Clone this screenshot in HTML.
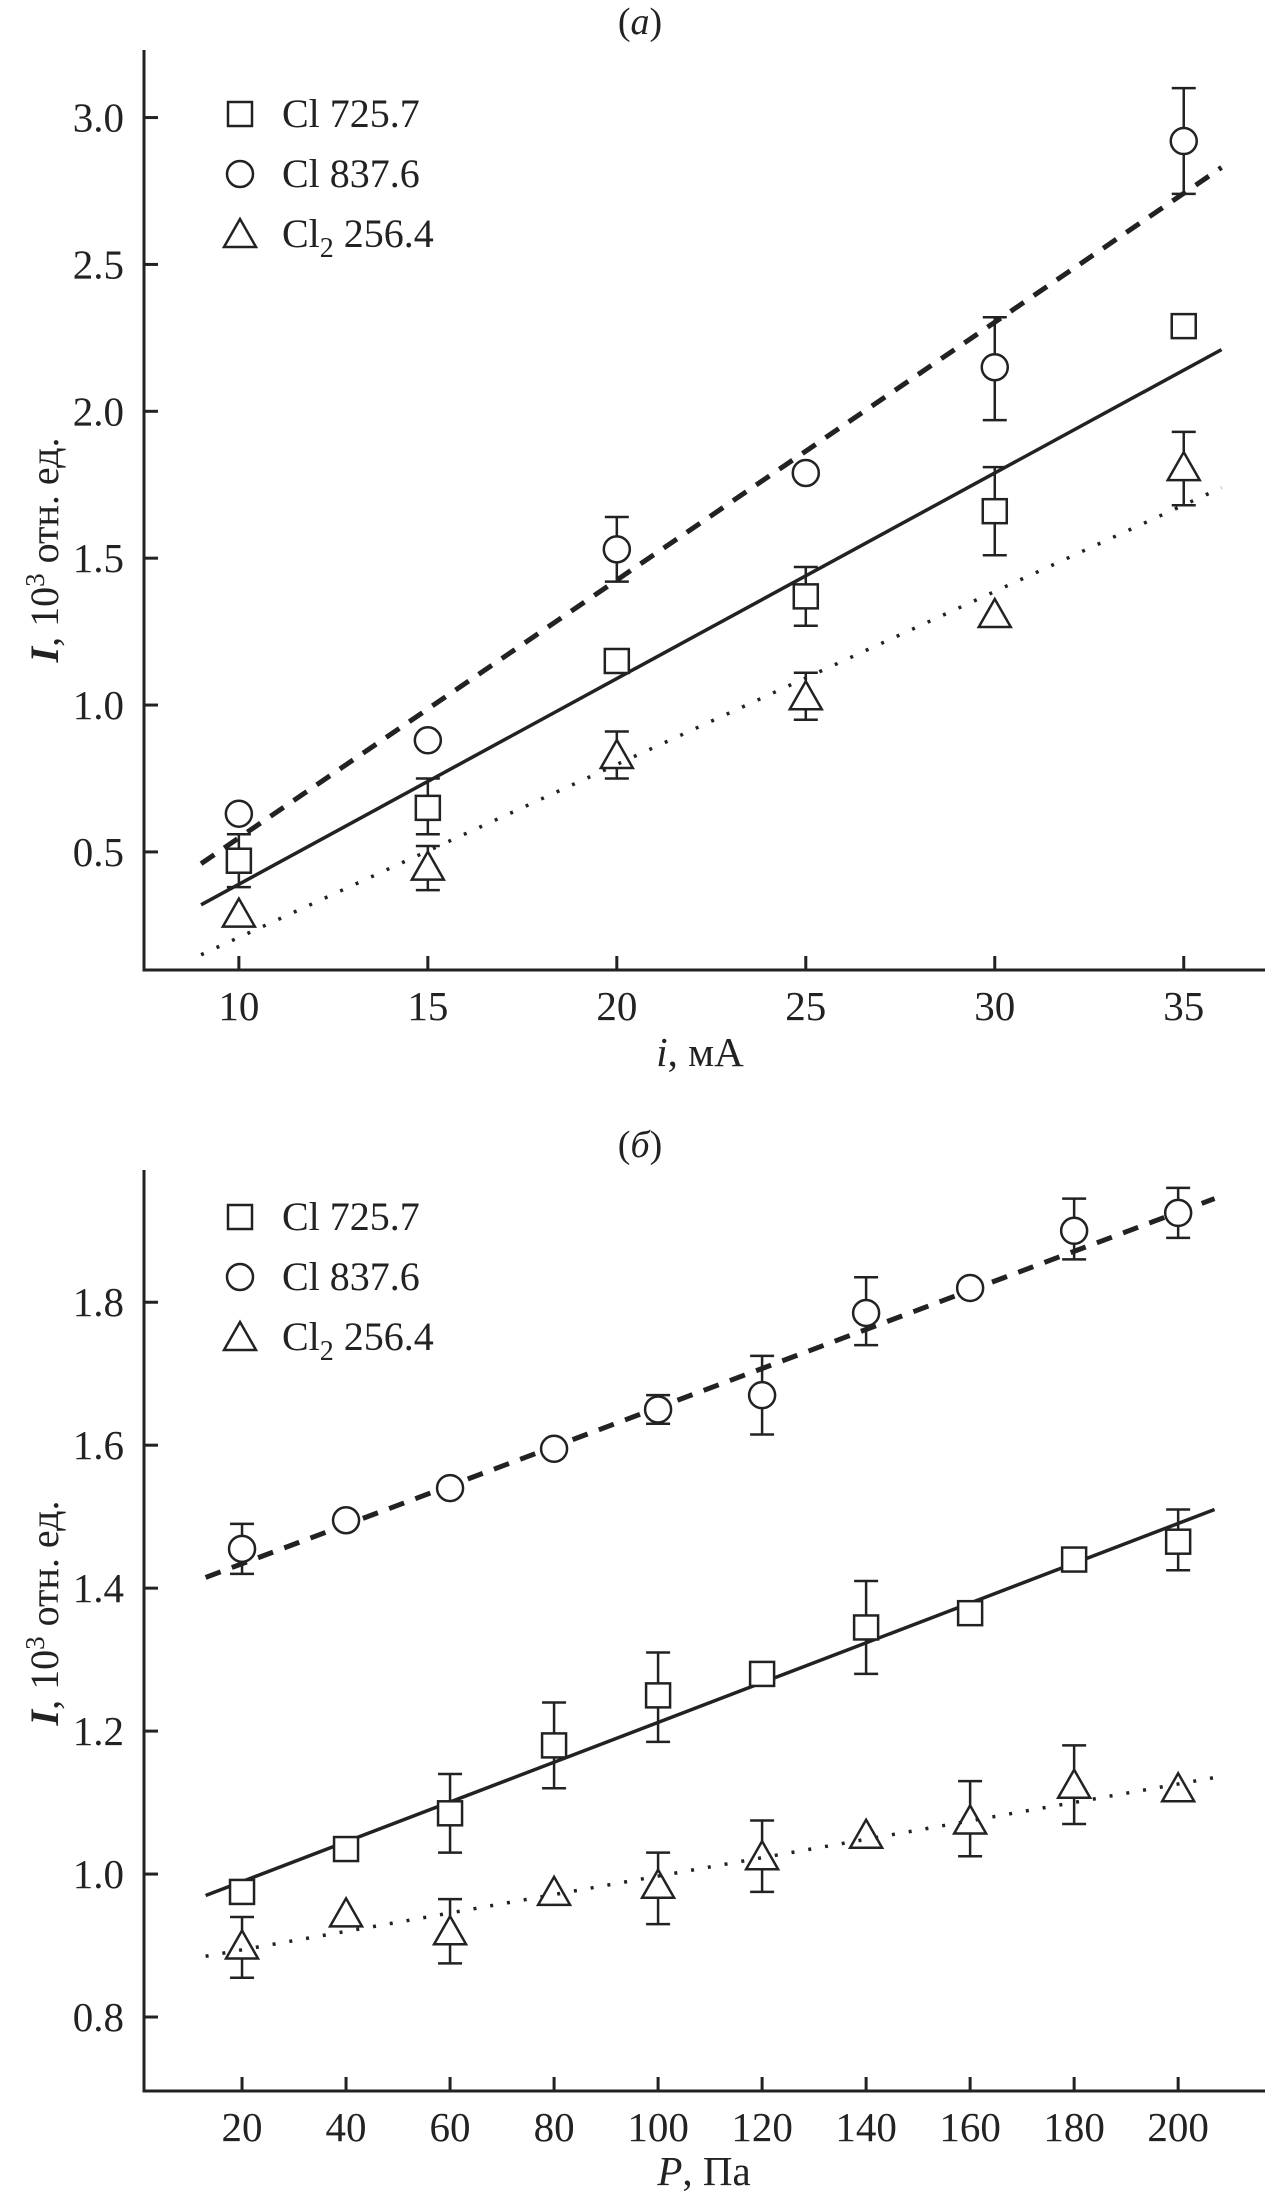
<!DOCTYPE html>
<html><head><meta charset="utf-8"><style>
html,body{margin:0;padding:0;background:#fff;}
svg{display:block;font-family:"Liberation Serif",serif;}
</style></head><body>
<svg id="fig" width="1277" height="2200" viewBox="0 0 1277 2200" xmlns="http://www.w3.org/2000/svg"></svg>
<script>
// ---- panel (a) data ----
const aX = [10, 15, 20, 25, 30, 35];
const aXTicks = [10, 15, 20, 25, 30, 35];
const aYTicks = [0.5, 1.0, 1.5, 2.0, 2.5, 3.0];
const aSq = [0.47, 0.65, 1.15, 1.37, 1.66, 2.29];
const aSqLo = [0.38, 0.56, null, 1.27, 1.51, null];
const aSqHi = [0.56, 0.75, null, 1.47, 1.81, null];
const aCi = [0.63, 0.88, 1.53, 1.79, 2.15, 2.92];
const aCiLo = [null, null, 1.42, null, 1.97, 2.74];
const aCiHi = [null, null, 1.64, null, 2.32, 3.10];
const aTr = [0.29, 0.45, 0.83, 1.03, 1.31, 1.81];
const aTrLo = [null, 0.37, 0.75, 0.95, null, 1.68];
const aTrHi = [null, 0.52, 0.91, 1.11, null, 1.93];
const aFitX = [9, 36];
const aFitSq = [0.32, 2.21];
const aFitCi = [0.46, 2.83];
const aFitTr = [0.15, 1.74];
// ---- panel (б) data ----
const bX = [20, 40, 60, 80, 100, 120, 140, 160, 180, 200];
const bXTicks = [20, 40, 60, 80, 100, 120, 140, 160, 180, 200];
const bYTicks = [0.8, 1.0, 1.2, 1.4, 1.6, 1.8];
const bSq = [0.975, 1.035, 1.085, 1.18, 1.25, 1.28, 1.345, 1.365, 1.44, 1.465];
const bSqLo = [null, null, 1.03, 1.12, 1.185, null, 1.28, null, null, 1.425];
const bSqHi = [null, null, 1.14, 1.24, 1.31, null, 1.41, null, null, 1.51];
const bCi = [1.455, 1.495, 1.54, 1.595, 1.65, 1.67, 1.785, 1.82, 1.90, 1.925];
const bCiLo = [1.42, null, null, null, 1.63, 1.615, 1.74, null, 1.86, 1.89];
const bCiHi = [1.49, null, null, null, 1.67, 1.725, 1.835, null, 1.945, 1.96];
const bTr = [0.90, 0.945, 0.92, 0.975, 0.985, 1.025, 1.055, 1.075, 1.125, 1.12];
const bTrLo = [0.855, null, 0.875, null, 0.93, 0.975, null, 1.025, 1.07, null];
const bTrHi = [0.94, null, 0.965, null, 1.03, 1.075, null, 1.13, 1.18, null];
const bFitX = [13, 207];
const bFitSq = [0.97, 1.51];
const bFitCi = [1.415, 1.945];
const bFitTr = [0.885, 1.135];

const NS = "http://www.w3.org/2000/svg";
const svg = document.getElementById('fig');
function mk(tag, attrs, parent, txt){
  const e = document.createElementNS(NS, tag);
  for (const k in attrs) e.setAttribute(k, attrs[k]);
  if (txt !== undefined) e.textContent = txt;
  (parent || svg).appendChild(e);
  return e;
}

function panel(cfg){
  const g = mk('g', {});
  
  
  const L = 144, R = cfg.right, T = cfg.top, B = cfg.bottom;
  const sx = v => L + (v - cfg.xmin) / (cfg.xmax - cfg.xmin) * (R - L);
  const sy = v => B - (v - cfg.ymin) / (cfg.ymax - cfg.ymin) * (B - T);
  const ax = mk('path', {d:`M${L},${T} L${L},${B} L${R},${B}`, fill:'none', stroke:'#222', 'stroke-width':3}, g);
  
  
  cfg.xt.forEach(v => {
    mk('line', {x1:sx(v), x2:sx(v), y1:B, y2:B-14, stroke:'#222', 'stroke-width':3}, g);
    const t = mk('text', {x:sx(v), y:B+50, 'font-size':41, 'text-anchor':'middle', fill:'#222'}, g, String(v));
    
    
  });
  cfg.yt.forEach(v => {
    mk('line', {x1:L, x2:L+14, y1:sy(v), y2:sy(v), stroke:'#222', 'stroke-width':3}, g);
    const t = mk('text', {x:124, y:sy(v)+14, 'font-size':41, 'text-anchor':'end', fill:'#222'}, g, v.toFixed(1));
    
    
  });
  const fits = [[cfg.fSq, 'none', 'fit-line-cl725'], [cfg.fCi, '16,12', 'fit-line-cl837'], [cfg.fTr, '3,14', 'fit-line-cl2']];
  fits.forEach(f => {
    const ln = mk('line', {x1:sx(cfg.fx[0]), y1:sy(f[0][0]), x2:sx(cfg.fx[1]), y2:sy(f[0][1]), stroke:'#222', 'stroke-width': f[1]==='16,12'?5:3.5, 'stroke-dasharray':f[1]}, g);
    
    
  });
  function err(xs, vals, lo, hi, gap, nm){
    xs.forEach((x, i) => {
      const cx = sx(x), cy = sy(vals[i]);
      if (hi[i] != null){
        const p = mk('path', {d:`M${cx},${cy-gap} L${cx},${sy(hi[i])} M${cx-12},${sy(hi[i])} L${cx+12},${sy(hi[i])}`, stroke:'#222', 'stroke-width':2.5, fill:'none'}, g);
        
        
      }
      if (lo[i] != null){
        const p = mk('path', {d:`M${cx},${cy+gap} L${cx},${sy(lo[i])} M${cx-12},${sy(lo[i])} L${cx+12},${sy(lo[i])}`, stroke:'#222', 'stroke-width':2.5, fill:'none'}, g);
        
        
      }
    });
  }
  err(cfg.x, cfg.sq, cfg.sqLo, cfg.sqHi, 12, 'cl725');
  err(cfg.x, cfg.ci, cfg.ciLo, cfg.ciHi, 13, 'cl837');
  err(cfg.x, cfg.tr, cfg.trLo, cfg.trHi, 14, 'cl2');
  const sqm = (cx, cy) => mk('rect', {x:cx-12, y:cy-12, width:24, height:24, fill:'#fff', stroke:'#222', 'stroke-width':2.5}, g);
  const cim = (cx, cy) => mk('circle', {cx:cx, cy:cy, r:13, fill:'#fff', stroke:'#222', 'stroke-width':2.5}, g);
  const trm = (cx, cy) => mk('path', {d:`M${cx},${cy-15} L${cx+16},${cy+13} L${cx-16},${cy+13} Z`, fill:'none', stroke:'#222', 'stroke-width':2.5}, g);
  cfg.x.forEach((x, i) => {
    const a = sqm(sx(x), sy(cfg.sq[i]));
    
    
    const b = cim(sx(x), sy(cfg.ci[i]));
    
    
    const c = trm(sx(x), sy(cfg.tr[i]));
    
    
  });
  const ly = cfg.legY;
  const l1 = sqm(240, ly);  
  const l2 = cim(240, ly+60);  
  const l3 = trm(240, ly+120);  
  const t1 = mk('text', {x:282, y:ly+13, 'font-size':40, fill:'#222'}, g, 'Cl 725.7');
   
  const t2 = mk('text', {x:282, y:ly+73, 'font-size':40, fill:'#222'}, g, 'Cl 837.6');
   
  const t3 = mk('text', {x:282, y:ly+133, 'font-size':40, fill:'#222'}, g);
   
  mk('tspan', {}, t3, 'Cl');
  mk('tspan', {dy:10, 'font-size':28}, t3, '2');
  mk('tspan', {dy:-10}, t3, ' 256.4');
  const pt = mk('text', {x:640, y:cfg.titleY, 'font-size':38, 'text-anchor':'middle', fill:'#222'}, g);
   
  mk('tspan', {}, pt, '(');
  mk('tspan', {'font-style':'italic'}, pt, cfg.letter);
  mk('tspan', {}, pt, ')');
  const yt = mk('text', {transform:`translate(58,${cfg.yTitleY}) rotate(-90)`, 'font-size':40, 'text-anchor':'middle', fill:'#222'}, g);
   
  mk('tspan', {'font-style':'italic', 'font-weight':'bold'}, yt, 'I');
  mk('tspan', {}, yt, ', 10');
  mk('tspan', {dy:-14, 'font-size':27}, yt, '3');
  mk('tspan', {dy:14}, yt, ' отн. ед.');
  const xt = mk('text', {x:cfg.xTitleX, y:cfg.xTitleY, 'font-size':41, 'text-anchor':'middle', fill:'#222'}, g);
   
  mk('tspan', {'font-style':'italic'}, xt, cfg.xVar);
  mk('tspan', {}, xt, cfg.xUnit);
}

panel({name:'panel-a', right:1265, top:50, bottom:970, xmin:7.49, xmax:37.15, ymin:0.098, ymax:3.23,
  xt:aXTicks, yt:aYTicks, x:aX, sq:aSq, sqLo:aSqLo, sqHi:aSqHi, ci:aCi, ciLo:aCiLo, ciHi:aCiHi, tr:aTr, trLo:aTrLo, trHi:aTrHi,
  fx:aFitX, fSq:aFitSq, fCi:aFitCi, fTr:aFitTr, legY:114, titleY:34, letter:'a', yTitleY:550, xTitleX:700, xTitleY:1066, xVar:'i', xUnit:', мА'});
panel({name:'panel-b', right:1265, top:1170, bottom:2091, xmin:1.15, xmax:216.7, ymin:0.6965, ymax:1.985,
  xt:bXTicks, yt:bYTicks, x:bX, sq:bSq, sqLo:bSqLo, sqHi:bSqHi, ci:bCi, ciLo:bCiLo, ciHi:bCiHi, tr:bTr, trLo:bTrLo, trHi:bTrHi,
  fx:bFitX, fSq:bFitSq, fCi:bFitCi, fTr:bFitTr, legY:1217, titleY:1157, letter:'б', yTitleY:1613, xTitleX:704, xTitleY:2185, xVar:'P', xUnit:', Па'});
</script>
</body></html>
